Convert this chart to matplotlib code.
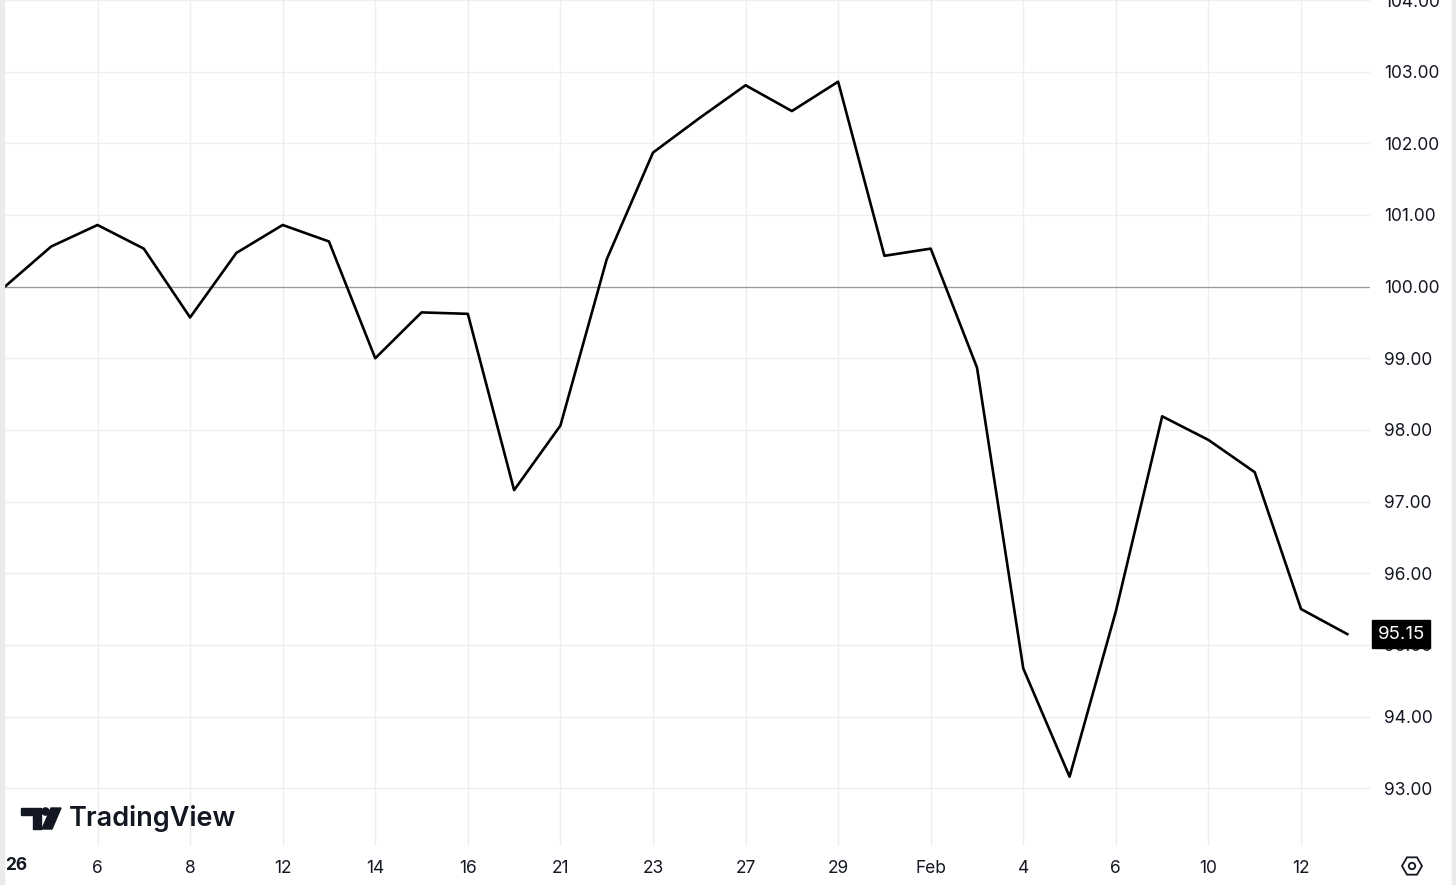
import matplotlib.pyplot as plt
from matplotlib.patches import Rectangle, Circle, RegularPolygon, Polygon

# trading days, Jan 2 2026 .. Feb 13 2026
days = ["Jan 2", "Jan 5", "Jan 6", "Jan 7", "Jan 8", "Jan 9", "Jan 12", "Jan 13", "Jan 14",
        "Jan 15", "Jan 16", "Jan 20", "Jan 21", "Jan 22", "Jan 23", "Jan 26", "Jan 27",
        "Jan 28", "Jan 29", "Jan 30", "Feb 2", "Feb 3", "Feb 4", "Feb 5", "Feb 6",
        "Feb 9", "Feb 10", "Feb 11", "Feb 12", "Feb 13"]
values = [100.00, 100.56, 100.86, 100.53, 99.57, 100.47, 100.86, 100.63, 99.00,
          99.64, 99.62, 97.16, 98.06, 100.38, 101.87, 102.35, 102.81, 102.45, 102.86,
          100.43, 100.53, 98.87, 94.67, 93.16, 95.47, 98.19, 97.86, 97.41, 95.50, 95.15]

tick_idx = [2, 4, 6, 8, 10, 12, 14, 16, 18, 20, 22, 24, 26, 28]
tick_labels = ["6", "8", "12", "14", "16", "21", "23", "27", "29", "Feb", "4", "6", "10", "12"]
y_ticks = [93, 94, 95, 96, 97, 98, 99, 100, 101, 102, 103, 104]

plt.rcParams['font.family'] = ['Inter', 'DejaVu Sans']
TXT = "#131722"
FS = 12.5

W, H = 1456, 885
fig = plt.figure(figsize=(W / 100, H / 100), dpi=100)
fig.patch.set_facecolor("white")

ax = fig.add_axes([4 / W, 39 / H, (1370 - 4) / W, 846 / H])
x = list(range(len(values)))
ax.plot(x, values, color="black", linewidth=1.9, zorder=3)
ax.axhline(100, color="#9a9a9a", linewidth=0.9, zorder=2)

ax.set_xlim(-0.02, 29.49)
ax.set_ylim(92.193, 103.966)
ax.set_xticks(tick_idx)
ax.set_xticklabels(tick_labels)
ax.set_yticks(y_ticks)
ax.set_yticklabels([f"{v:.2f}" for v in y_ticks])
ax.yaxis.tick_right()
ax.tick_params(axis="both", length=0, labelsize=FS, colors=TXT)
ax.tick_params(axis="x", pad=10)
ax.tick_params(axis="y", pad=10)
ax.grid(True, color="#eeeeee", linewidth=1.0)
for s in ax.spines.values():
    s.set_visible(False)

# last price box
ax.annotate("95.15", xy=(1.0, values[-1]), xycoords=("axes fraction", "data"),
            xytext=(5.5, 0), textcoords="offset points", ha="left", va="center",
            fontsize=13.5, color="white",
            bbox=dict(boxstyle="square,pad=0.28", fc="black", ec="black"))

# overlay in pixel coordinates for decorations
ov = fig.add_axes([0, 0, 1, 1], zorder=5)
ov.set_xlim(0, W)
ov.set_ylim(H, 0)
ov.axis("off")
ov.patch.set_alpha(0)

ov.add_patch(Rectangle((0, 0), 4, H, color="#ebebeb"))
ov.add_patch(Rectangle((1452, 0), 4, H, color="#ebebeb"))

# year label, clipped at the left edge
ov.text(5, 866, "26", fontsize=FS, fontweight="bold", color=TXT, va="center", ha="left")

# TradingView logo
ov.add_patch(Polygon([(21, 808), (41, 808), (41, 829), (33, 829), (33, 815), (21, 815)],
                     closed=True, color=TXT))
ov.add_patch(Circle((45.5, 811.5), 3.6, color=TXT))
ov.add_patch(Polygon([(51, 808), (61, 808), (52, 829), (42, 829)], closed=True, color=TXT))
ov.text(69, 819, "TradingView", fontsize=19.5, fontweight="semibold",
        color=TXT, va="center", ha="left")

# settings icon
ov.add_patch(RegularPolygon((1412, 866), numVertices=6, radius=10, orientation=0.5236,
                            fill=False, ec=TXT, lw=1.3))
ov.add_patch(Circle((1412, 866), 3.2, fill=False, ec=TXT, lw=1.3))

fig.savefig("out.png", dpi=100)
